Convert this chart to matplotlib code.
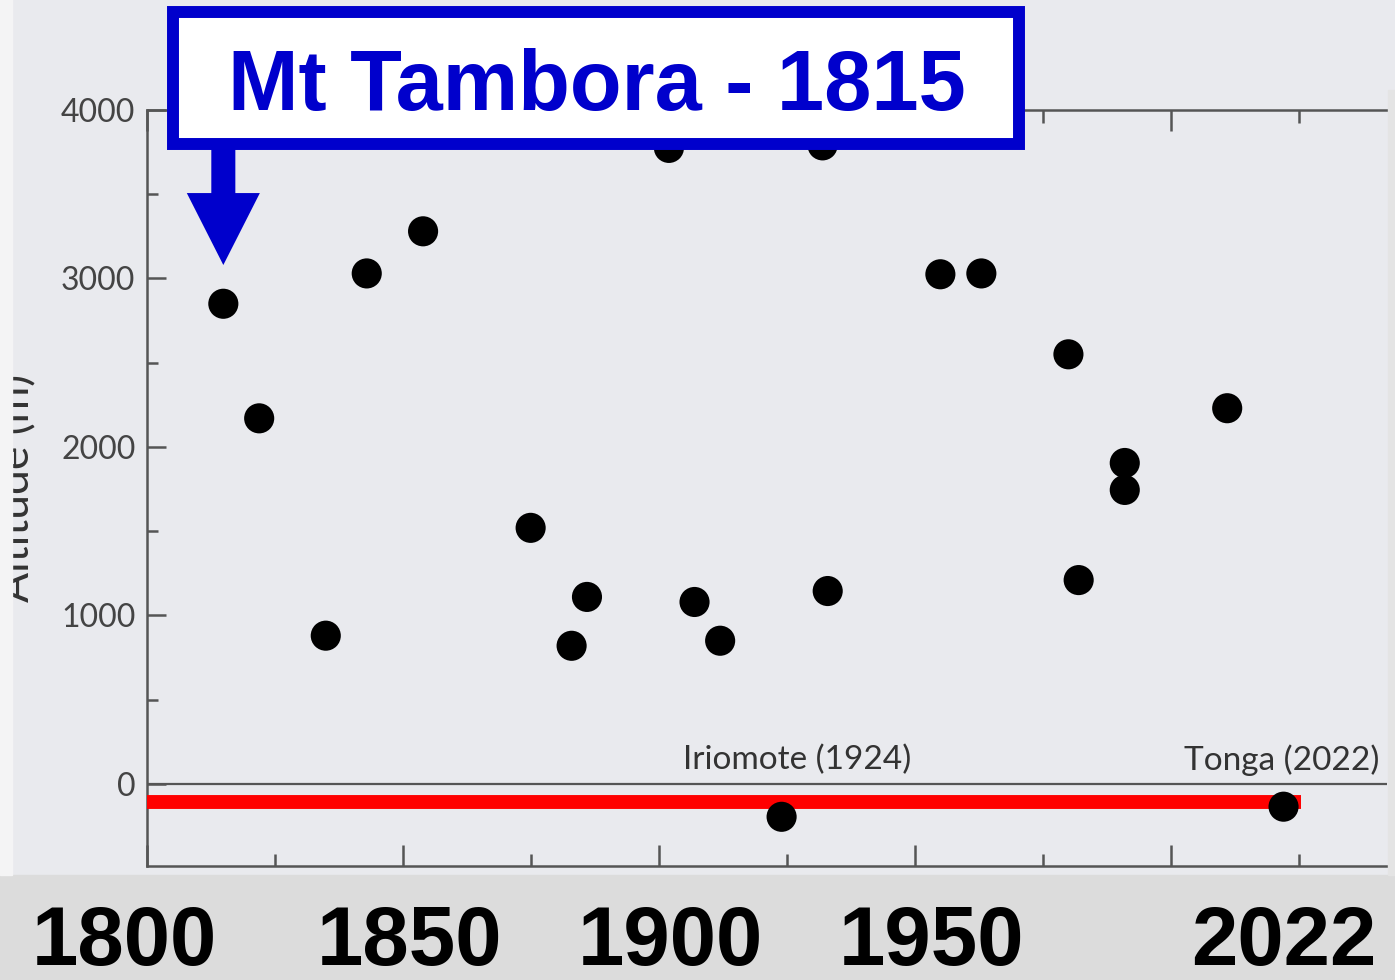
import numpy as np
import matplotlib
matplotlib.use("Agg")
import matplotlib.pyplot as plt
from matplotlib.patches import Rectangle
from matplotlib.ticker import MultipleLocator
import matplotlib.transforms as mtransforms

# eruption year / altitude (m)
years = [1815, 1822, 1835, 1843, 1854, 1875, 1883, 1886, 1902, 1907, 1912,
         1924, 1932, 1933, 1955, 1963, 1980, 1982, 1991, 1991, 2011, 2022]
altitudes = [2850, 2170, 880, 3030, 3280, 1520, 820, 1110, 3775, 1080, 850,
             -195, 3790, 1145, 3025, 3030, 2550, 1210, 1905, 1745, 2230, -135]

sea_line_years = [1800, 2025.5]
sea_line_alt = [-107, -107]

big_labels = ["1800", "1850", "1900", "1950", "2022"]
big_label_x = [1795.7, 1851.4, 1902.2, 1953.2, 2022.0]

W, H = 1395, 980
bg = "#e9eaee"
fig = plt.figure(figsize=(W / 100, H / 100), dpi=100, facecolor=bg)
ax = fig.add_axes([146.5 / W, 1 - 866 / H, 1240.5 / W, 756 / H])
ax.set_facecolor(bg)

ax.scatter(years, altitudes, s=470, color="black", edgecolors="none", zorder=4)
ax.plot(sea_line_years, sea_line_alt, color="#ff0000", lw=10, solid_capstyle="butt", zorder=3)
ax.axhline(0, color="#555555", lw=1.6, zorder=2)

ax.set_xlim(1800, 2042.2)
ax.set_ylim(-487, 4000)

for side in ["left", "top", "bottom"]:
    ax.spines[side].set_color("#555555")
    ax.spines[side].set_linewidth(1.8)
ax.spines["right"].set_visible(False)

ax.xaxis.set_major_locator(MultipleLocator(50))
ax.xaxis.set_minor_locator(MultipleLocator(25))
ax.yaxis.set_major_locator(MultipleLocator(1000))
ax.yaxis.set_minor_locator(MultipleLocator(500))
ax.tick_params(axis="x", which="both", direction="in", top=True, bottom=True,
               labelbottom=False, color="#555555", width=1.8)
ax.tick_params(axis="x", which="major", length=15)
ax.tick_params(axis="x", which="minor", length=9)
ax.tick_params(axis="y", which="both", direction="in", left=True, right=False,
               color="#555555", width=1.8, labelsize=23, labelcolor="#444444", pad=8)
ax.tick_params(axis="y", which="major", length=14)
ax.tick_params(axis="y", which="minor", length=8)
for lab in ax.get_yticklabels():
    lab.set_family("Lato")

ax.text(1927, 85, "Iriomote (1924)", ha="center", va="baseline",
        fontsize=24, color="#333333", family="Lato")
ax.text(2021.6, 85, "Tonga (2022)", ha="center", va="baseline",
        fontsize=24, color="#333333", family="Lato")

# arrow pointing at Tambora
ax.annotate("", xy=(1815, 3080), xytext=(1815, 3840), annotation_clip=False,
            arrowprops=dict(width=17.3, headwidth=52.6, headlength=51.8,
                            shrink=0, color="#0000cc", lw=0), zorder=5)

# y label, cut by the left edge like in the screenshot
fig.text(37 / W, 1 - 488 / H, "Altitude (m)", rotation=90, ha="right", va="center",
         fontsize=32, color="#333333", family="Lato")

# strips around the screenshot
fig.patches.append(Rectangle((0, 0), 1, 105 / H, transform=fig.transFigure,
                             color="#dcdcdc", zorder=6))
fig.patches.append(Rectangle((0, 105 / H), 12 / W, 1, transform=fig.transFigure,
                             color="#f4f4f5", zorder=6))
fig.patches.append(Rectangle((1388 / W, 105 / H), 7 / W, 1 - 105 / H - 90 / H,
                             transform=fig.transFigure, color="#e4e4e4", zorder=6))

# title box
fig.patches.append(Rectangle((173 / W, 1 - 144 / H), 846 / W, 132 / H,
                             transform=fig.transFigure, facecolor="white",
                             edgecolor="#0000cc", lw=8.6, zorder=7))
fig.text(596.5 / W, 1 - 110 / H, "Mt Tambora - 1815", ha="center", va="baseline",
         fontsize=61, fontweight="bold", color="#0000cc", family="Liberation Sans",
         zorder=8)

# big year labels under the axis
tr = mtransforms.blended_transform_factory(ax.transData, fig.transFigure)
for lab, xv in zip(big_labels, big_label_x):
    fig.text(xv, 1 - 965 / H, lab, transform=tr, ha="center", va="baseline",
             fontsize=60, fontweight="bold", color="black", family="Liberation Sans",
             zorder=9)

fig.savefig("out.png", dpi=100, facecolor=bg)
